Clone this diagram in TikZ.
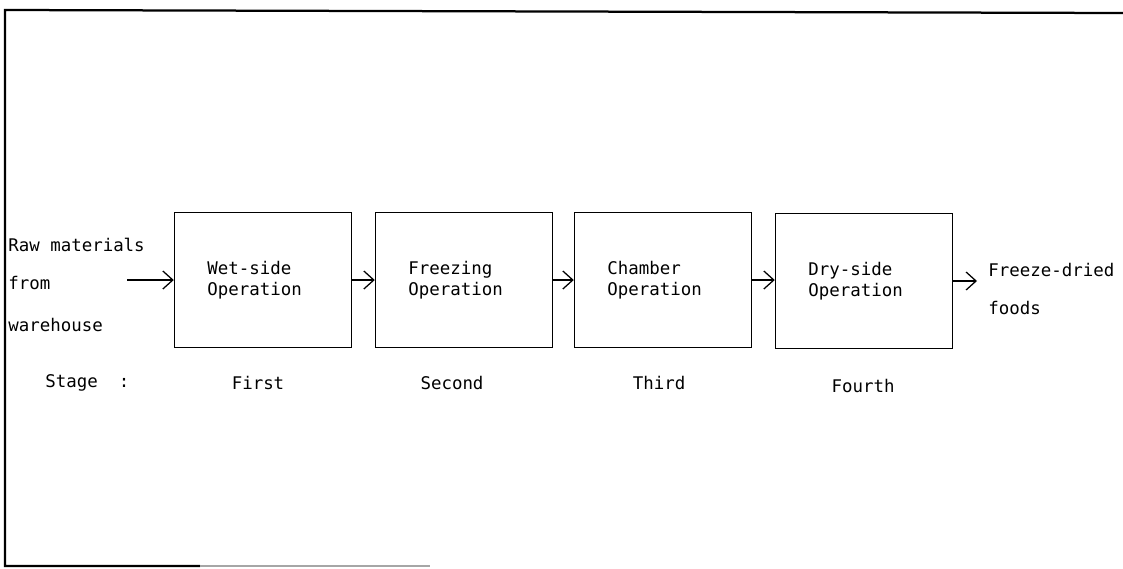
\documentclass[tikz,border=0pt]{standalone}
\usepackage{fontspec}
\newfontfamily\plotfont{DejaVu Sans Mono}
\usetikzlibrary{positioning,arrows.meta}

\tikzset{
  stagebox/.style={draw,line width=1pt,minimum width=4.425cm,minimum height=3.375cm,
    text width=2.775cm,align=left,inner sep=0pt},
  flow/.style={line width=0.9pt,-{Straight Barb[length=2.5mm,width=4.5mm]}},
  frame/.style={line width=1.6pt},
  lbl/.style={inner sep=0pt}
}

\begin{document}
\begin{tikzpicture}[x=0.025cm,y=-0.025cm,
    font=\plotfont\fontsize{12.4}{14.5}\selectfont]
  \useasboundingbox (0,0) rectangle (1123,568);

  % open frame
  \draw[frame] (1123,13) -- (5,10) -- (5,566) -- (200,566);
  \draw[frame,gray!70] (200,566) -- (430,566);

  \node[stagebox] (wet)    at (263,280) {Wet-side\\Operation};
  \node[stagebox] (freeze) at (464,280) {Freezing\\Operation};
  \node[stagebox] (chamb)  at (663,280) {Chamber\\Operation};
  \node[stagebox] (dry)    at (864,281) {Dry-side\\Operation};

  \node[lbl,anchor=west] (raw)  at (8,245) {Raw materials};
  \node[lbl,anchor=west] (from) at (8,283) {from};
  \node[lbl,anchor=west] (ware) at (8,325) {warehouse};
  \coordinate (in) at (127,280);

  \node[lbl,anchor=west] (fd)    at (988,270) {Freeze-dried};
  \node[lbl,anchor=west] (foods) at (988,308) {foods};
  \coordinate (out) at (977,281);

  \draw[flow] (in) -- (wet);
  \draw[flow] (wet) -- (freeze);
  \draw[flow] (freeze) -- (chamb);
  \draw[flow] (chamb) -- (dry.west |- chamb);
  \draw[flow] (dry) -- (out);

  % stage row
  \node[lbl,anchor=west] (stage) at (45,383) {Stage\ \ :};
  \node[lbl] (first)  at (258,383) {First};
  \node[lbl] (second) at (452,383) {Second};
  \node[lbl] (third)  at (659,383) {Third};
  \node[lbl] (fourth) at (863,386) {Fourth};
\end{tikzpicture}
\end{document}
